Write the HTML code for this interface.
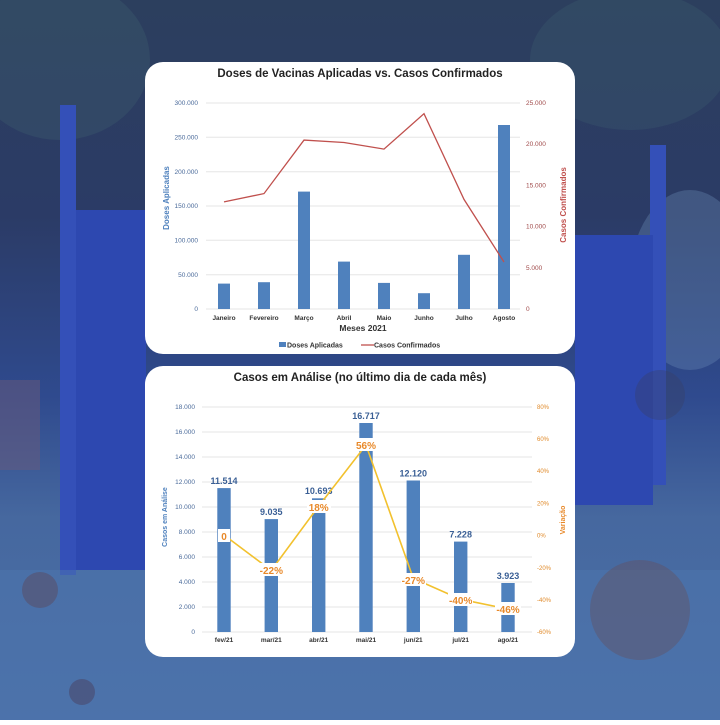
<!DOCTYPE html><html><head><meta charset="utf-8"><style>
body{margin:0;width:720px;height:720px;overflow:hidden;font-family:"Liberation Sans",sans-serif}
</style></head><body>
<svg width="720" height="720" viewBox="0 0 720 720" xmlns="http://www.w3.org/2000/svg" font-family="Liberation Sans, sans-serif">
<defs>
<linearGradient id="bg" x1="0" y1="0" x2="0" y2="1">
<stop offset="0" stop-color="#2c3f5e"/><stop offset="0.3" stop-color="#2b3b66"/>
<stop offset="0.55" stop-color="#2f4a8e"/><stop offset="0.72" stop-color="#46689f"/><stop offset="1" stop-color="#4a6fa8"/></linearGradient>
</defs>
<rect width="720" height="720" fill="url(#bg)"/>
<ellipse cx="60" cy="60" rx="90" ry="80" fill="#3f5f70" opacity="0.35"/>
<ellipse cx="690" cy="280" rx="60" ry="90" fill="#6a8cb8" opacity="0.35"/>
<ellipse cx="630" cy="60" rx="100" ry="70" fill="#3f5f70" opacity="0.3"/>
<rect x="60" y="105" width="16" height="470" fill="#3450b8"/>
<rect x="76" y="210" width="70" height="360" fill="#2d48b0"/>
<rect x="0" y="380" width="40" height="90" fill="#6a5a7a" opacity="0.5"/>
<rect x="650" y="145" width="16" height="340" fill="#3450b8"/>
<rect x="575" y="235" width="78" height="270" fill="#2d48b0"/>
<rect x="0" y="570" width="720" height="150" fill="#4d76ae" opacity="0.5"/>
<circle cx="40" cy="590" r="18" fill="#5a4a60" opacity="0.5"/>
<circle cx="82" cy="692" r="13" fill="#4a4060" opacity="0.5"/>
<circle cx="640" cy="610" r="50" fill="#6a4a50" opacity="0.35"/>
<circle cx="660" cy="395" r="25" fill="#3a4060" opacity="0.35"/>

<!-- top card -->
<rect x="145" y="62" width="430" height="292" rx="18" fill="#fff"/>
<text x="360" y="77" font-size="11.5" font-weight="bold" text-anchor="middle" fill="#222">Doses de Vacinas Aplicadas vs. Casos Confirmados</text>
<g stroke="#e6e6e6" stroke-width="1">
<line x1="206" x2="520" y1="103" y2="103"/><line x1="206" x2="520" y1="137.3" y2="137.3"/><line x1="206" x2="520" y1="171.7" y2="171.7"/><line x1="206" x2="520" y1="206" y2="206"/><line x1="206" x2="520" y1="240.3" y2="240.3"/><line x1="206" x2="520" y1="274.7" y2="274.7"/><line x1="206" x2="520" y1="309" y2="309"/>
</g>
<g font-size="6.5" fill="#4a6a9a" text-anchor="end">
<text x="198" y="105">300.000</text><text x="198" y="139.5">250.000</text><text x="198" y="174">200.000</text><text x="198" y="208">150.000</text><text x="198" y="242.5">100.000</text><text x="198" y="277">50.000</text><text x="198" y="311">0</text>
</g>
<g font-size="6.5" fill="#a04a4a">
<text x="526" y="105">25.000</text><text x="526" y="146.2">20.000</text><text x="526" y="187.4">15.000</text><text x="526" y="228.6">10.000</text><text x="526" y="269.8">5.000</text><text x="526" y="311">0</text>
</g>
<g fill="#4f81bd">
<rect x="218" y="283.6" width="12" height="25.4"/><rect x="258" y="282.2" width="12" height="26.8"/><rect x="298" y="191.6" width="12" height="117.4"/><rect x="338" y="261.6" width="12" height="47.4"/><rect x="378" y="282.9" width="12" height="26.1"/><rect x="418" y="293.2" width="12" height="15.8"/><rect x="458" y="254.8" width="12" height="54.2"/><rect x="498" y="125" width="12" height="184"/>
</g>
<polyline fill="none" stroke="#c0504d" stroke-width="1.3" points="224,201.9 264,193.6 304,140.1 344,142.5 384,149.1 424,113.7 464,199.4 504,262"/>
<g font-size="6.5" font-weight="bold" fill="#333" text-anchor="middle">
<text x="224" y="320">Janeiro</text><text x="264" y="320">Fevereiro</text><text x="304" y="320">Março</text><text x="344" y="320">Abril</text><text x="384" y="320">Maio</text><text x="424" y="320">Junho</text><text x="464" y="320">Julho</text><text x="504" y="320">Agosto</text>
</g>
<text x="363" y="331" font-size="8.5" font-weight="bold" text-anchor="middle" fill="#333">Meses 2021</text>
<text transform="translate(169,198) rotate(-90)" font-size="8" font-weight="bold" text-anchor="middle" fill="#4f81bd">Doses Aplicadas</text>
<text transform="translate(566,205) rotate(-90)" font-size="8" font-weight="bold" text-anchor="middle" fill="#c0504d">Casos Confirmados</text>
<rect x="279" y="342" width="7" height="5" fill="#4f81bd"/>
<text x="287" y="347.5" font-size="7" font-weight="bold" fill="#333">Doses Aplicadas</text>
<line x1="361" x2="374" y1="345" y2="345" stroke="#c0504d" stroke-width="1.3"/>
<text x="374" y="347.5" font-size="7" font-weight="bold" fill="#333">Casos Confirmados</text>

<!-- bottom card -->
<rect x="145" y="366" width="430" height="291" rx="18" fill="#fff"/>
<text x="360" y="381" font-size="11.5" font-weight="bold" text-anchor="middle" fill="#222">Casos em Análise (no último dia de cada mês)</text>
<g stroke="#e6e6e6" stroke-width="1">
<line x1="202" x2="532" y1="407" y2="407"/><line x1="202" x2="532" y1="432" y2="432"/><line x1="202" x2="532" y1="457" y2="457"/><line x1="202" x2="532" y1="482" y2="482"/><line x1="202" x2="532" y1="507" y2="507"/><line x1="202" x2="532" y1="532" y2="532"/><line x1="202" x2="532" y1="557" y2="557"/><line x1="202" x2="532" y1="582" y2="582"/><line x1="202" x2="532" y1="607" y2="607"/><line x1="202" x2="532" y1="632" y2="632"/>
</g>
<g font-size="6.5" fill="#4a6a9a" text-anchor="end">
<text x="195" y="409">18.000</text><text x="195" y="434">16.000</text><text x="195" y="459">14.000</text><text x="195" y="484">12.000</text><text x="195" y="509">10.000</text><text x="195" y="534">8.000</text><text x="195" y="559">6.000</text><text x="195" y="584">4.000</text><text x="195" y="609">2.000</text><text x="195" y="634">0</text>
</g>
<g font-size="6" fill="#e08a2a">
<text x="537" y="409">80%</text><text x="537" y="441">60%</text><text x="537" y="473">40%</text><text x="537" y="505.5">20%</text><text x="537" y="537.5">0%</text><text x="537" y="570">-20%</text><text x="537" y="602">-40%</text><text x="537" y="634">-60%</text>
</g>
<g fill="#4f81bd">
<rect x="217.3" y="488.1" width="13.4" height="143.9"/><rect x="264.6" y="519.1" width="13.4" height="112.9"/><rect x="312" y="498.3" width="13.4" height="133.7"/><rect x="359.3" y="423" width="13.4" height="209"/><rect x="406.6" y="480.5" width="13.4" height="151.5"/><rect x="454" y="541.6" width="13.4" height="90.4"/><rect x="501.3" y="583" width="13.4" height="49"/>
</g>
<g font-size="9" font-weight="bold" fill="#3a5f95" text-anchor="middle">
<text x="224" y="484">11.514</text><text x="271.3" y="515">9.035</text><text x="318.7" y="494">10.693</text><text x="366" y="419">16.717</text><text x="413.3" y="476.5">12.120</text><text x="460.7" y="537.5">7.228</text><text x="508" y="579">3.923</text>
</g>
<polyline fill="none" stroke="#f2c12e" stroke-width="1.6" points="224,535 271.3,570.4 318.7,506.1 366,445 413.3,578.4 460.7,599.3 508,609"/>
<g fill="#fff">
<rect x="218" y="529" width="12" height="13"/><rect x="259" y="563" width="25" height="13"/><rect x="307" y="500" width="24" height="13"/><rect x="354" y="438" width="24" height="13"/><rect x="401" y="573" width="25" height="13"/><rect x="448" y="593" width="25" height="13"/><rect x="495" y="602" width="26" height="13"/>
</g>
<g font-size="10" font-weight="bold" fill="#e8892a" text-anchor="middle">
<text x="224" y="540">0</text><text x="271.3" y="574">-22%</text><text x="318.7" y="511">18%</text><text x="366" y="449">56%</text><text x="413.3" y="584">-27%</text><text x="460.7" y="604">-40%</text><text x="508" y="613">-46%</text>
</g>
<g font-size="6.5" font-weight="bold" fill="#333" text-anchor="middle">
<text x="224" y="642">fev/21</text><text x="271.3" y="642">mar/21</text><text x="318.7" y="642">abr/21</text><text x="366" y="642">mai/21</text><text x="413.3" y="642">jun/21</text><text x="460.7" y="642">jul/21</text><text x="508" y="642">ago/21</text>
</g>
<text transform="translate(167,517) rotate(-90)" font-size="7" font-weight="bold" text-anchor="middle" fill="#4f81bd">Casos em Análise</text>
<text transform="translate(565,520) rotate(-90)" font-size="7" font-weight="bold" text-anchor="middle" fill="#e8892a">Variação</text>
</svg>
</body></html>
